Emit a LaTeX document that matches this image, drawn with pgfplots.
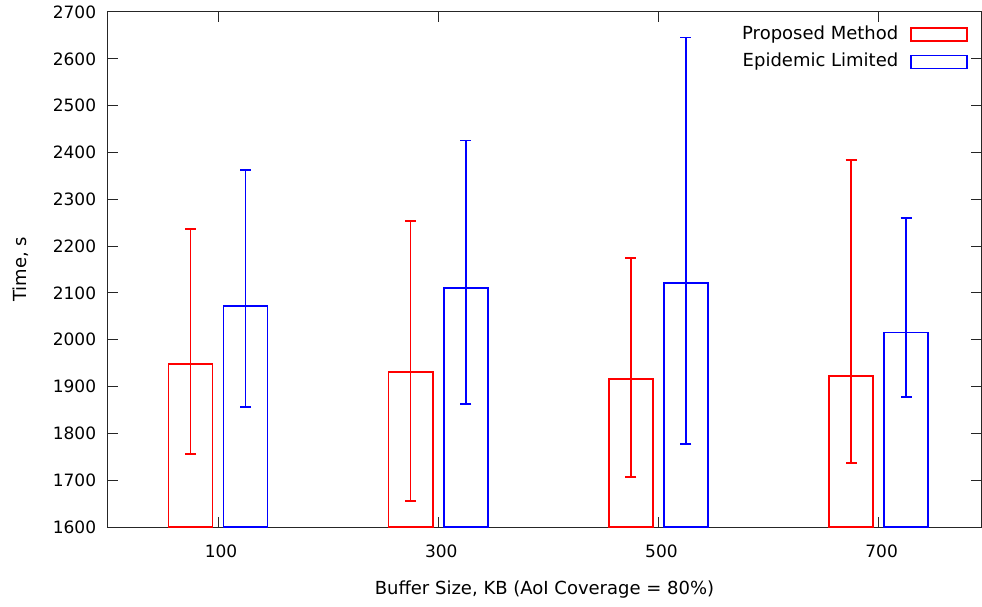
\documentclass[border=0pt]{standalone}
\usepackage{fontspec}
\setmainfont{DejaVu Sans}
\usepackage{pgfplots}
\pgfplotsset{compat=1.18}
\begin{document}
\fontsize{17bp}{20bp}\selectfont
\begin{tikzpicture}
\begin{axis}[
  scale only axis,
  width=873bp, height=515bp,
  xmin=0, xmax=793,
  ymin=1600, ymax=2700,
  xtick={100,300,500,700},
  ytick distance=100,
  /pgf/number format/assume math mode=true,
  /pgf/number format/1000 sep={},
  tick align=inside, tick pos=both,
  major tick length=10bp,
  axis line style={line width=1bp, black!85},
  every tick/.style={black!85, line width=1bp},
  tick label style={font=\fontsize{17bp}{20bp}\selectfont},
  label style={font=\fontsize{18bp}{20bp}\selectfont},
  xticklabel style={yshift=-12bp, xshift=3bp},
  yticklabel style={xshift=-6bp},
  xlabel={Buffer Size, KB (AoI Coverage = 80\%)},
  ylabel={Time, s},
  xlabel style={at={(axis description cs:0.5,-0.1223)}, anchor=center},
  ylabel style={at={(axis description cs:-0.0997,0.5)}, anchor=center},
  legend plot pos=right,
  legend cell align=right,
  legend style={at={(axis description cs:0.9851,0.9728)}, anchor=north east,
    draw=none, fill=none, inner sep=0pt, row sep=11bp, column sep=12bp,
    font=\fontsize{18bp}{20bp}\selectfont,
    nodes={inner sep=0pt, text height=13bp, text depth=3.5bp}},
]
\addplot[ybar, bar width=40, bar shift=0pt, draw=red, fill=none, line width=1.5bp,
  legend image code/.code={\draw[red, line width=1.5bp] (0bp,-6.5bp) rectangle (56bp,6.5bp);}]
coordinates {(75,1948) (275,1931) (475,1916) (675,1923)};
\addlegendentry{Proposed Method}
\addplot[ybar, bar width=40, bar shift=0pt, draw=blue, fill=none, line width=1.5bp,
  legend image code/.code={\draw[blue, line width=1.5bp] (0bp,-6.5bp) rectangle (56bp,6.5bp);}]
coordinates {(125,2072) (325,2111) (525,2121) (725,2015)};
\addlegendentry{Epidemic Limited}
\addplot[draw=none, mark=none, forget plot,
  error bars/.cd, y dir=both, y explicit,
  error bar style={line width=1.5bp, draw=red, solid},
  error mark options={rotate=90, line width=1.5bp, mark size=5.5bp, draw=red, solid}]
coordinates {
(75,1948) += (0,289) -= (0,192)
(275,1931) += (0,323) -= (0,275)
(475,1916) += (0,259) -= (0,209)
(675,1923) += (0,461) -= (0,186)
};
\addplot[draw=none, mark=none, forget plot,
  error bars/.cd, y dir=both, y explicit,
  error bar style={line width=1.5bp, draw=blue, solid},
  error mark options={rotate=90, line width=1.5bp, mark size=5.5bp, draw=blue, solid}]
coordinates {
(125,2072) += (0,291) -= (0,216)
(325,2111) += (0,314) -= (0,248)
(525,2121) += (0,524) -= (0,344)
(725,2015) += (0,245) -= (0,137)
};
\end{axis}
\pgfresetboundingbox
\path ([shift={(-108bp,-80bp)}]current axis.south west) rectangle ([shift={(1bp,12bp)}]current axis.north east);
\end{tikzpicture}
\end{document}
